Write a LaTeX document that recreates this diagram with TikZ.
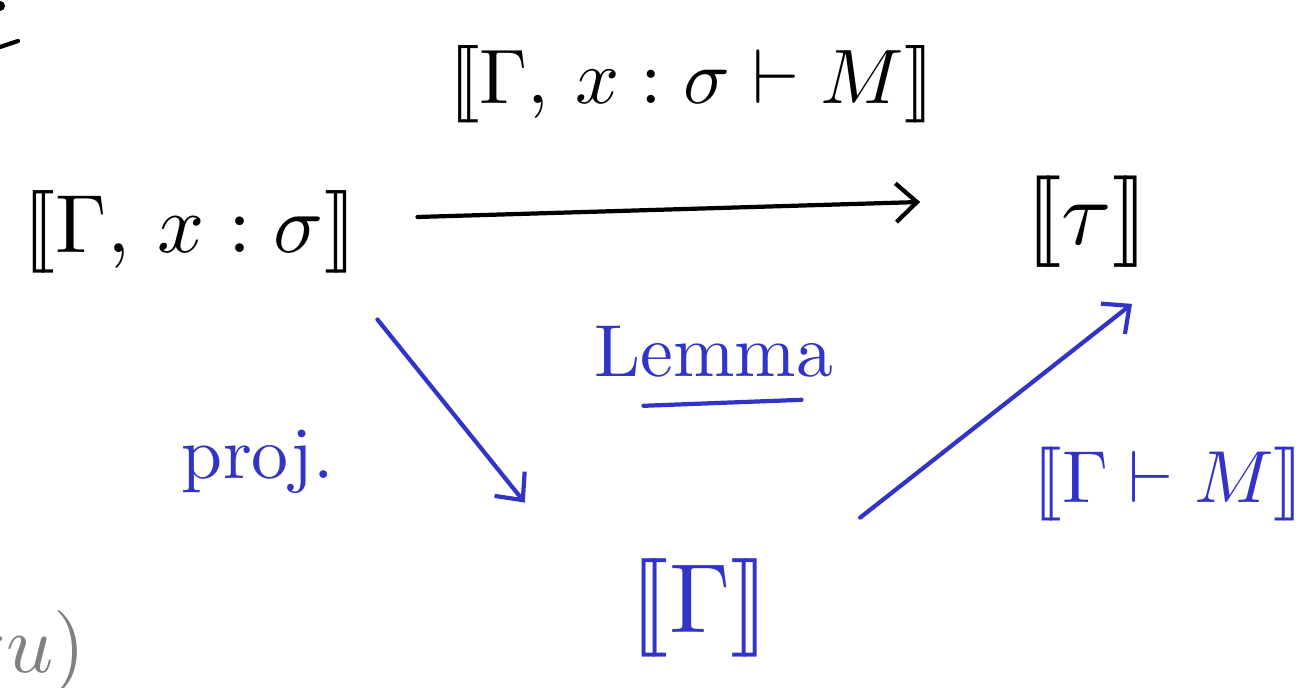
\documentclass[tikz,border=0pt]{standalone}
\usepackage{amsmath, amssymb}
\usepackage{graphicx}
\usepackage{tikz}
\usetikzlibrary{arrows.meta}
\usepackage{xcolor}
\definecolor{inkblue}{RGB}{50, 52, 200}
\definecolor{inkgray}{RGB}{128, 128, 128}
\newcommand{\sem}[1]{\mathopen{[\![} #1 \mathclose{]\!]}}
\newcommand{\bigink}[1]{\scalebox{4.7}{#1}}
\newcommand{\midink}[1]{\scalebox{4.2}{#1}}

\begin{document}
\begin{tikzpicture}[x=0.02cm, y=-0.02cm, >={Straight Barb[length=12pt, width=22pt]},
  stroke/.style={line width=2.4pt, line cap=round}]
  \useasboundingbox (0,0) rectangle (1313,688);

  % objects
  \node (gsig) at (190,232) {\bigink{$\sem{\Gamma,\, x:\sigma}$}};
  \node (tau) at (1087,222) {\scalebox{5.2}{$\sem{\tau}$}};
  \node[inkblue] (gam) at (700,608) {\scalebox{5.6}{$\sem{\Gamma}$}};

  % maps
  \draw[stroke, ->] ([shift={(55,-15)}]gsig.east) -- ([shift={(-100,-20)}]tau.west);
  \node (top) at (692,84) {\scalebox{4.4}{$\sem{\Gamma,\, x:\sigma \vdash M}$}};

  \draw[stroke, inkblue, ->] ([shift={(15,40)}]gsig.south east) -- ([shift={(-100,-50)}]gam.north west);
  \node[inkblue] (proj) at (258,462) {\midink{proj.}};

  \draw[stroke, inkblue, ->] ([shift={(85,-35)}]gam.north east) -- ([shift={(45,30)}]tau.south);
  \node[inkblue] (gm) at (1168,484) {\midink{$\sem{\Gamma \vdash M}$}};

  % lemma
  \node[inkblue] (lemma) at (714,352) {\midink{Lemma}};
  \draw[stroke, inkblue] ([shift={(55,22)}]lemma.south west) -- ([shift={(-38,16)}]lemma.south east);

  % cut-off marks at the edges
  \fill (0,6) circle (5);
  \draw[stroke] (0,47) -- (18,41);
  \begin{scope}
    \clip (0,0) rectangle (1313,688);
    \node[inkgray, anchor=east] (frag) at (92,652) {\bigink{$\tau u)$}};
  \end{scope}
\end{tikzpicture}
\end{document}
